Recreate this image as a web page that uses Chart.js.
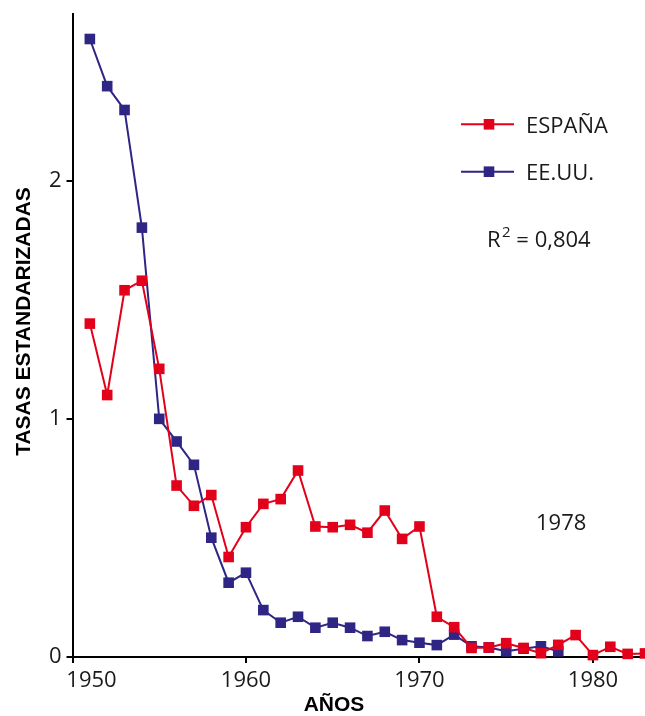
<!DOCTYPE html>
<html>
<head>
<meta charset="utf-8">
<script src="https://cdn.jsdelivr.net/npm/chart.js@4"></script>
<style>
html,body{margin:0;padding:0;background:#fff;}
#wrap{width:645px;height:716px;}
</style>
</head>
<body>
<div id="wrap"><canvas id="c" width="645" height="716"></canvas></div>
<script>
// ---- data ----
const espanaYears = [1951,1952,1953,1954,1955,1956,1957,1958,1959,1960,1961,1962,1963,1964,1965,1966,1967,1968,1969,1970,1971,1972,1973,1974,1975,1976,1977,1978,1979,1980,1981,1982,1983];
const espanaValues = [1.40,1.10,1.54,1.58,1.21,0.72,0.635,0.68,0.42,0.545,0.643,0.663,0.783,0.548,0.545,0.555,0.522,0.615,0.496,0.548,0.169,0.125,0.038,0.040,0.058,0.038,0.016,0.051,0.092,0.008,0.043,0.013,0.015];
const eeuuYears = [1951,1952,1953,1954,1955,1956,1957,1958,1959,1960,1961,1962,1963,1964,1965,1966,1967,1968,1969,1970,1971,1972,1973,1974,1975,1976,1977,1978];
const eeuuValues = [2.595,2.397,2.297,1.803,1.0,0.905,0.807,0.501,0.312,0.354,0.197,0.144,0.169,0.123,0.144,0.123,0.088,0.106,0.071,0.060,0.050,0.094,0.045,0.040,0.024,0.035,0.045,0.024];
const seriesLabels = ['ESPAÑA','EE.UU.'];
const xTicks = [1950,1960,1970,1980];
const yTicks = [0,1,2];
const xTitle = 'AÑOS';
const yTitle = 'TASAS ESTANDARIZADAS';
const r2Parts = ['R', '2', ' = 0,804'];
const yearNote = '1978';

const RED = 'rgb(226,0,26)';
const BLUE = 'rgb(46,37,133)';
const TEXT = '#1a1a1a';
const FONT = '"Open Sans", "Liberation Sans", sans-serif';
const BOLD = '"Liberation Sans", Arial, sans-serif';

const toPts = (xs, ys) => xs.map((x, i) => ({x: x, y: ys[i]}));

const zeroPad = s => { s.paddingLeft = 0; s.paddingRight = 0; s.paddingTop = 0; s.paddingBottom = 0; };

const extras = {
  id: 'extras',
  beforeDraw(chart) {
    const sx = chart.scales.x;
    const items = sx.getLabelItems(chart.chartArea);
    if (items.length && !items[0]._shifted) {
      items[0].options.translation[0] += 19;
      items[0]._shifted = true;
    }
  },
  afterDraw(chart) {
    const ctx = chart.ctx;
    const ds = chart.data.datasets;
    ctx.save();
    // axis titles
    ctx.fillStyle = '#000';
    ctx.font = 'bold 21px ' + BOLD;
    ctx.textAlign = 'center';
    ctx.textBaseline = 'middle';
    ctx.fillText(xTitle, 334, 705);
    ctx.save();
    ctx.translate(24, 321.5);
    ctx.rotate(-Math.PI / 2);
    ctx.fillText(yTitle, 0, 0);
    ctx.restore();

    // legend
    const rows = [124.3, 171.7];
    const baselines = [133.3, 180.3];
    ds.forEach((d, i) => {
      const y = rows[i];
      ctx.strokeStyle = d.borderColor;
      ctx.lineWidth = 2;
      ctx.beginPath();
      ctx.moveTo(461, y);
      ctx.lineTo(514, y);
      ctx.stroke();
      ctx.fillStyle = d.borderColor;
      ctx.fillRect(489 - 5.3, y - 5.3, 10.6, 10.6);
      ctx.fillStyle = TEXT;
      ctx.font = '22px ' + FONT;
      ctx.textAlign = 'left';
      ctx.textBaseline = 'alphabetic';
      ctx.fillText(d.label, 526, baselines[i]);
    });

    // annotations
    ctx.fillStyle = TEXT;
    ctx.textAlign = 'left';
    ctx.textBaseline = 'alphabetic';
    let x = 487;
    ctx.font = '22px ' + FONT;
    ctx.fillText(r2Parts[0], x, 246.7);
    x += ctx.measureText(r2Parts[0]).width + 1.5;
    ctx.font = '15px ' + FONT;
    ctx.fillText(r2Parts[1], x, 236.7);
    x += ctx.measureText(r2Parts[1]).width;
    ctx.font = '22px ' + FONT;
    ctx.fillText(r2Parts[2], x, 246.7);
    ctx.fillText(yearNote, 536, 530);
    ctx.restore();
  }
};

new Chart(document.getElementById('c'), {
  type: 'line',
  data: {
    datasets: [
      {
        label: seriesLabels[0],
        data: toPts(espanaYears, espanaValues),
        borderColor: RED,
        backgroundColor: RED,
        pointBackgroundColor: RED,
        pointBorderWidth: 0,
        pointStyle: 'rect',
        pointRadius: 7.5,
        borderWidth: 2,
        tension: 0,
        fill: false,
        clip: false
      },
      {
        label: seriesLabels[1],
        data: toPts(eeuuYears, eeuuValues),
        borderColor: BLUE,
        backgroundColor: BLUE,
        pointBackgroundColor: BLUE,
        pointBorderWidth: 0,
        pointStyle: 'rect',
        pointRadius: 7.5,
        borderWidth: 2,
        tension: 0,
        fill: false,
        clip: false
      }
    ]
  },
  options: {
    responsive: false,
    animation: false,
    events: [],
    layout: {autoPadding: false, padding: {top: 14, right: 0, bottom: 0, left: 0}},
    plugins: {legend: {display: false}, tooltip: {enabled: false}, title: {display: false}},
    scales: {
      x: {
        type: 'linear',
        min: 1950,
        max: 1983,
        afterBuildTicks: s => { s.ticks = xTicks.map(v => ({value: v})); },
        afterFit: s => { s.height = 59; zeroPad(s); },
        grid: {display: true, drawOnChartArea: false, drawTicks: true, tickLength: 6, color: '#000', lineWidth: 2},
        border: {display: true, color: '#000', width: 2},
        ticks: {color: TEXT, font: {family: FONT, size: 22, lineHeight: 1.2}, padding: 5, maxRotation: 0, autoSkip: false,
                callback: v => String(v)},
        title: {display: false}
      },
      y: {
        type: 'linear',
        min: 0,
        max: 2.7,
        afterBuildTicks: s => { s.ticks = yTicks.map(v => ({value: v})); },
        afterFit: s => { s.width = 72.5; zeroPad(s); },
        grid: {display: true, drawOnChartArea: false, drawTicks: true, tickLength: 6, color: '#000', lineWidth: 2},
        border: {display: true, color: '#000', width: 2},
        ticks: {color: TEXT, font: {family: FONT, size: 22}, padding: 5, autoSkip: false,
                callback: v => String(v)},
        title: {display: false}
      }
    }
  },
  plugins: [extras]
});
</script>
</body>
</html>
